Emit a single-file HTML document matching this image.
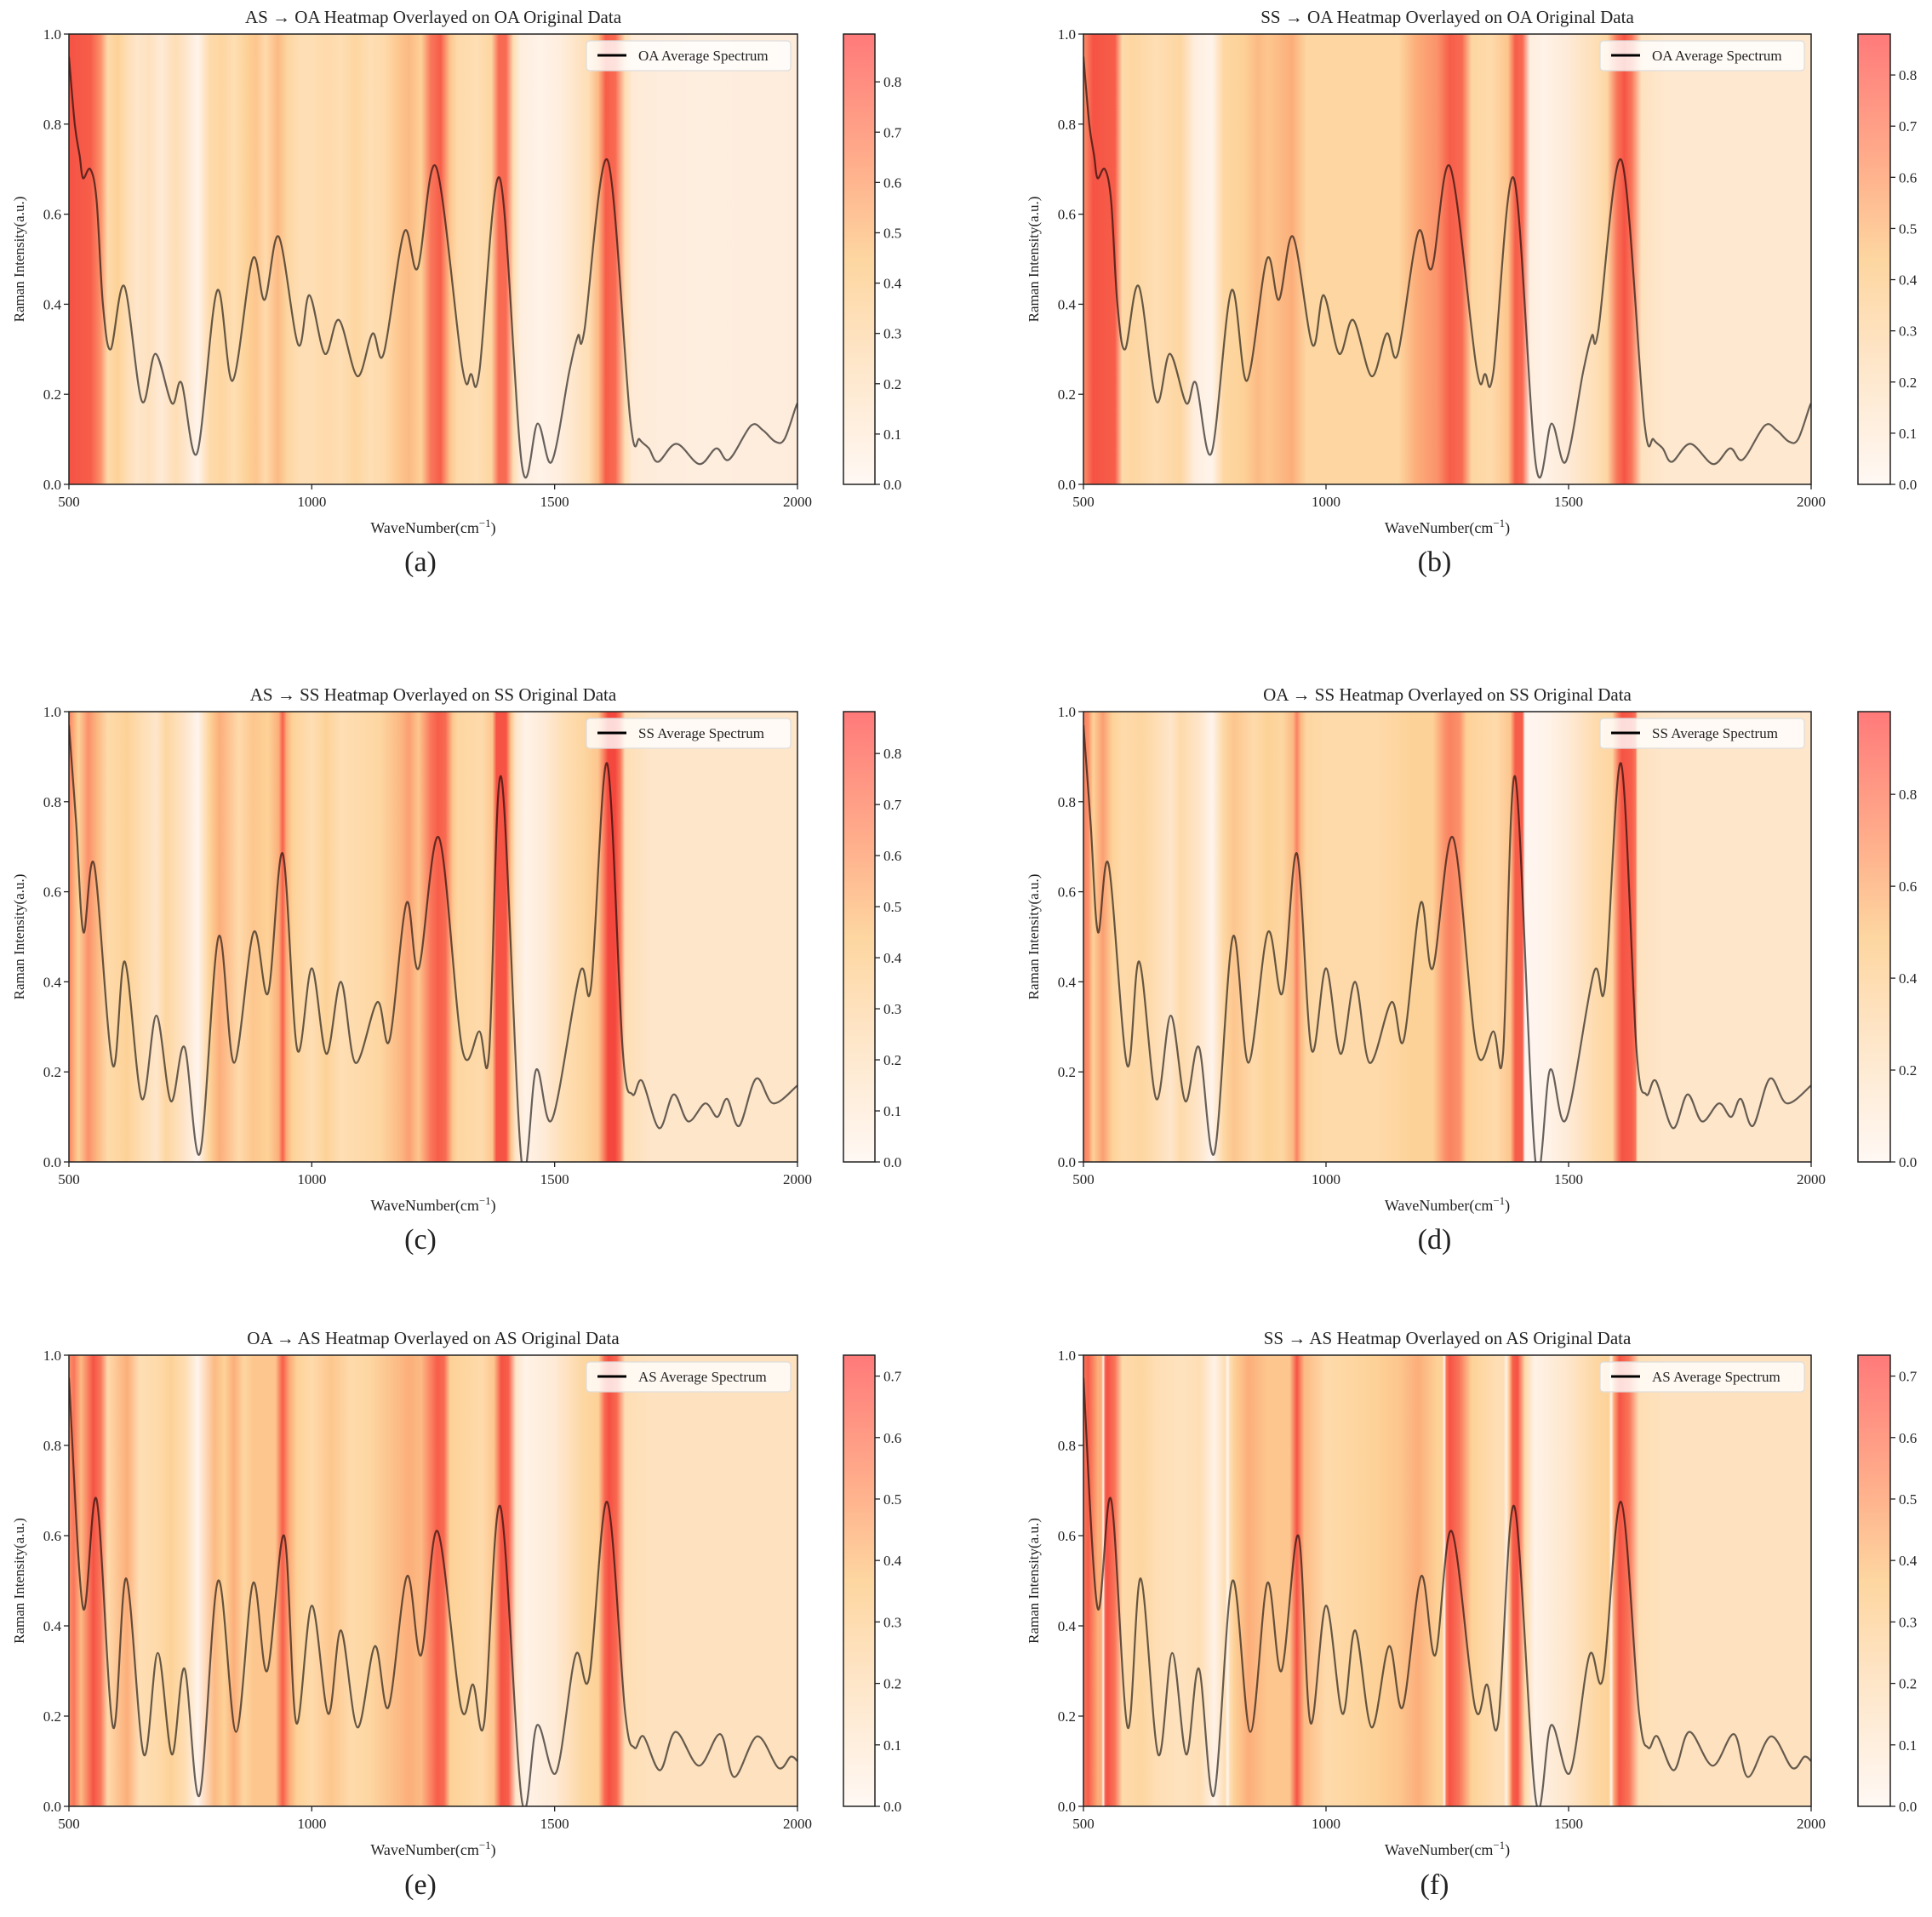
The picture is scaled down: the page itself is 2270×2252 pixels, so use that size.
<!DOCTYPE html>
<html><head><meta charset="utf-8"><style>
html,body{margin:0;padding:0;background:#fff;}
svg text{font-family:"Liberation Serif",serif;fill:#222;}
</style></head><body>
<svg id="fig" width="2270" height="2247" viewBox="0 0 2270 2247" xmlns="http://www.w3.org/2000/svg"></svg>
<script>
// ---- spectra data (wavenumber keypoints, intensity) ----
const oaWn = [500,512,522,529,544,557,570,586,614,650,678,712,732,764,805,837,878,903,932,972,995,1027,1056,1094,1125,1148,1190,1218,1256,1310,1328,1345,1387,1433,1465,1494,1530,1548,1561,1609,1656,1675,1694,1713,1751,1798,1833,1859,1904,1929,1954,1973,1996,2000];
const oaVal = [0.95,0.80,0.73,0.68,0.70,0.63,0.40,0.30,0.44,0.185,0.29,0.18,0.225,0.07,0.43,0.23,0.50,0.41,0.55,0.31,0.42,0.29,0.365,0.24,0.335,0.29,0.56,0.48,0.705,0.26,0.245,0.25,0.68,0.04,0.135,0.05,0.25,0.33,0.34,0.72,0.14,0.10,0.08,0.05,0.09,0.045,0.08,0.055,0.13,0.12,0.095,0.10,0.17,0.18];
const ssWn = [500,515,530,552,590,615,650,680,710,738,770,808,840,880,910,940,970,1000,1030,1060,1090,1135,1160,1195,1220,1262,1310,1345,1365,1390,1432,1462,1495,1552,1575,1608,1640,1660,1680,1715,1745,1775,1810,1835,1855,1880,1915,1950,2000];
const ssVal = [0.97,0.75,0.51,0.66,0.215,0.445,0.14,0.325,0.135,0.255,0.02,0.50,0.22,0.51,0.375,0.685,0.25,0.43,0.24,0.40,0.22,0.355,0.27,0.575,0.43,0.72,0.25,0.29,0.24,0.855,0.0,0.205,0.095,0.42,0.39,0.885,0.25,0.15,0.18,0.075,0.15,0.09,0.13,0.10,0.14,0.08,0.185,0.13,0.17];
const asWn = [500,529,557,591,618,654,683,712,738,769,807,844,879,908,943,968,1000,1034,1060,1094,1130,1158,1196,1225,1259,1307,1332,1355,1388,1433,1464,1503,1543,1571,1608,1645,1664,1683,1717,1749,1797,1841,1870,1917,1961,1986,2000];
const asVal = [0.95,0.44,0.68,0.175,0.505,0.115,0.34,0.115,0.305,0.025,0.50,0.165,0.495,0.30,0.60,0.185,0.445,0.205,0.39,0.175,0.355,0.22,0.51,0.335,0.61,0.22,0.27,0.185,0.665,0.01,0.18,0.075,0.335,0.285,0.675,0.21,0.13,0.155,0.08,0.165,0.09,0.16,0.065,0.155,0.085,0.11,0.10];

// ---- heatmap data (wavenumber keypoints, importance relative to colorbar max) ----
const heatAWn = [500,545,565,580,600,620,640,665,690,720,740,765,790,815,840,865,885,905,930,950,975,1000,1030,1060,1090,1120,1150,1180,1200,1225,1245,1265,1285,1300,1340,1370,1385,1400,1415,1430,1470,1510,1540,1570,1590,1605,1625,1645,1660,1700,1800,2000];
const heatAVal = [0.95,0.9,0.7,0.35,0.45,0.3,0.2,0.25,0.15,0.3,0.2,0.03,0.35,0.4,0.3,0.45,0.5,0.35,0.55,0.4,0.3,0.3,0.35,0.3,0.4,0.3,0.35,0.5,0.55,0.45,0.8,0.9,0.5,0.35,0.3,0.4,0.85,0.85,0.3,0.1,0.05,0.1,0.2,0.3,0.55,0.9,0.85,0.3,0.15,0.12,0.1,0.12];
const heatBWn = [500,520,565,580,600,650,700,730,765,790,830,860,880,930,960,1000,1100,1150,1185,1230,1255,1280,1300,1340,1375,1390,1405,1420,1450,1500,1560,1580,1600,1615,1630,1650,1700,2000];
const heatBVal = [0.7,0.95,0.9,0.35,0.4,0.3,0.4,0.1,0.03,0.4,0.45,0.55,0.5,0.6,0.4,0.4,0.4,0.4,0.6,0.7,0.9,0.85,0.4,0.35,0.5,0.9,0.85,0.1,0.05,0.15,0.3,0.4,0.8,0.95,0.8,0.25,0.18,0.18];
const heatCWn = [500,510,520,540,560,580,620,650,680,700,740,765,790,810,850,880,910,932,940,948,960,1000,1030,1060,1100,1140,1180,1200,1220,1245,1260,1275,1290,1300,1350,1372,1380,1400,1410,1420,1440,1480,1520,1560,1590,1603,1610,1625,1635,1645,1700,2000];
const heatCVal = [0.75,0.6,0.45,0.7,0.55,0.35,0.45,0.3,0.2,0.4,0.2,0.02,0.45,0.6,0.35,0.5,0.45,0.6,0.9,0.6,0.45,0.3,0.45,0.3,0.35,0.4,0.55,0.65,0.5,0.8,0.9,0.85,0.5,0.4,0.35,0.5,0.95,0.95,0.5,0.2,0.05,0.15,0.3,0.4,0.5,0.8,1.0,1.0,0.8,0.3,0.2,0.2];
const heatDWn = [500,510,520,540,560,580,620,650,680,700,740,765,790,810,850,880,910,932,940,948,960,1000,1100,1180,1220,1245,1255,1275,1290,1350,1380,1390,1405,1410,1440,1460,1500,1560,1590,1603,1610,1630,1638,1642,1700,2000];
const heatDVal = [0.75,0.7,0.45,0.65,0.45,0.35,0.4,0.3,0.2,0.35,0.2,0.02,0.4,0.5,0.35,0.45,0.4,0.55,0.75,0.55,0.4,0.35,0.35,0.45,0.45,0.7,0.75,0.7,0.45,0.35,0.5,0.9,0.9,0.0,0.02,0.05,0.15,0.35,0.4,0.8,0.95,0.9,0.8,0.25,0.2,0.2];
const heatEWn = [500,510,525,550,565,580,620,645,680,710,740,765,800,820,840,860,880,925,940,955,970,1000,1040,1080,1120,1180,1200,1225,1245,1258,1272,1285,1320,1350,1375,1390,1405,1420,1440,1500,1560,1590,1603,1612,1628,1645,1700,2000];
const heatEVal = [0.7,0.8,0.55,0.95,0.8,0.35,0.6,0.3,0.35,0.45,0.3,0.03,0.55,0.45,0.6,0.4,0.5,0.5,0.9,0.6,0.45,0.35,0.5,0.35,0.4,0.55,0.6,0.55,0.75,0.9,0.85,0.45,0.4,0.35,0.5,0.95,0.9,0.2,0.05,0.15,0.4,0.45,0.85,0.97,0.85,0.3,0.25,0.25];
const heatFWn = [500,510,530,537,541,545,550,565,580,620,650,700,740,770,792,797,802,810,840,880,925,940,955,1000,1050,1100,1150,1190,1230,1240,1244,1248,1255,1275,1300,1350,1366,1372,1378,1385,1395,1410,1430,1500,1560,1583,1588,1593,1605,1625,1645,1700,2000];
const heatFVal = [0.8,0.9,0.6,0.6,0.0,0.9,0.95,0.8,0.35,0.4,0.3,0.25,0.3,0.05,0.3,0.0,0.3,0.45,0.6,0.5,0.5,0.95,0.55,0.35,0.4,0.45,0.5,0.6,0.45,0.45,0.0,0.8,0.95,0.8,0.45,0.3,0.3,0.05,0.5,0.9,0.95,0.35,0.05,0.2,0.4,0.45,0.0,0.6,0.95,0.8,0.3,0.25,0.25];

const xTicks = [500,1000,1500,2000];
const yTicks = [0.0,0.2,0.4,0.6,0.8,1.0];
const cbMaxes = [0.895,0.88,0.882,0.98,0.734,0.734];
const cbTickA = [0,0.1,0.2,0.3,0.4,0.5,0.6,0.7,0.8];
const cbTickD = [0,0.2,0.4,0.6,0.8];
const cbTickE = [0,0.1,0.2,0.3,0.4,0.5,0.6,0.7];

const panels = [
 {id:'a',title:'AS \u2192 OA Heatmap Overlayed on OA Original Data',leg:'OA Average Spectrum',sw:oaWn,sv:oaVal,hw:heatAWn,hv:heatAVal,cb:0,ticks:cbTickA},
 {id:'b',title:'SS \u2192 OA Heatmap Overlayed on OA Original Data',leg:'OA Average Spectrum',sw:oaWn,sv:oaVal,hw:heatBWn,hv:heatBVal,cb:1,ticks:cbTickA},
 {id:'c',title:'AS \u2192 SS Heatmap Overlayed on SS Original Data',leg:'SS Average Spectrum',sw:ssWn,sv:ssVal,hw:heatCWn,hv:heatCVal,cb:2,ticks:cbTickA},
 {id:'d',title:'OA \u2192 SS Heatmap Overlayed on SS Original Data',leg:'SS Average Spectrum',sw:ssWn,sv:ssVal,hw:heatDWn,hv:heatDVal,cb:3,ticks:cbTickD},
 {id:'e',title:'OA \u2192 AS Heatmap Overlayed on AS Original Data',leg:'AS Average Spectrum',sw:asWn,sv:asVal,hw:heatEWn,hv:heatEVal,cb:4,ticks:cbTickE},
 {id:'f',title:'SS \u2192 AS Heatmap Overlayed on AS Original Data',leg:'AS Average Spectrum',sw:asWn,sv:asVal,hw:heatFWn,hv:heatFVal,cb:5,ticks:cbTickE}
];

const NS='http://www.w3.org/2000/svg';
const svg=document.getElementById('fig');
function mk(tag,attrs,parent){const e=document.createElementNS(NS,tag);for(const k in attrs)e.setAttribute(k,attrs[k]);(parent||svg).appendChild(e);return e;}

const cmapStops=[[0,[255,246,240]],[0.15,[254,234,214]],[0.3,[254,222,180]],[0.45,[253,210,152]],[0.6,[252,174,122]],[0.75,[250,130,98]],[0.9,[247,94,74]],[1,[244,72,62]]];
const cbStops=[[0,[255,248,244]],[0.3,[254,228,196]],[0.5,[253,214,160]],[0.7,[255,176,140]],[1,[255,122,122]]];
function cmap(v,stops){v=Math.max(0,Math.min(1,v));for(let i=1;i<stops.length;i++){if(v<=stops[i][0]){const a=stops[i-1],b=stops[i];const t=(v-a[0])/(b[0]-a[0]);const c=a[1].map((x,j)=>Math.round(x+(b[1][j]-x)*t));return 'rgb('+c.join(',')+')';}}const c=stops[stops.length-1][1];return 'rgb('+c.join(',')+')';}

const defs=mk('defs',{});
const cols=[{L:81,R:937,cbL:991,cbR:1028,ylab:22},{L:1273,R:2128,cbL:2183,cbR:2221,ylab:1214}];
const rows=[{T:40,B:569,lab:671},{T:836,B:1365,lab:1467},{T:1592,B:2122,lab:2225}];

panels.forEach((p,i)=>{
  const c=cols[i%2], r=rows[Math.floor(i/2)];
  const L=c.L,R=c.R,T=r.T,B=r.B;
  const sx=w=>L+(w-500)/1500*(R-L);
  const sy=v=>B-v*(B-T);
  const g=mk('g',{});
  
  
  const lg=mk('linearGradient',{id:'hg'+p.id,x1:'0',x2:'1',y1:'0',y2:'0'},defs);
  p.hw.forEach((w,k)=>{mk('stop',{offset:((w-500)/1500).toFixed(4),'stop-color':cmap(p.hv[k],cmapStops)},lg);});
  const hr=mk('rect',{x:L,y:T,width:R-L,height:B-T,fill:'url(#hg'+p.id+')'},g);
  
  
  const pts=p.sw.map((w,k)=>[sx(w),sy(p.sv[k])]);
  let d='M'+pts[0][0].toFixed(1)+','+pts[0][1].toFixed(1);
  for(let k=0;k<pts.length-1;k++){
    const p0=pts[Math.max(0,k-1)],p1=pts[k],p2=pts[k+1],p3=pts[Math.min(pts.length-1,k+2)];
    const c1=[p1[0]+(p2[0]-p0[0])/6,p1[1]+(p2[1]-p0[1])/6];
    const c2=[p2[0]-(p3[0]-p1[0])/6,p2[1]-(p3[1]-p1[1])/6];
    d+=' C'+c1[0].toFixed(1)+','+c1[1].toFixed(1)+' '+c2[0].toFixed(1)+','+c2[1].toFixed(1)+' '+p2[0].toFixed(1)+','+p2[1].toFixed(1);
  }
  const cp=mk('clipPath',{id:'cp'+p.id},defs);mk('rect',{x:L,y:T,width:R-L,height:B-T},cp);
  const ln=mk('path',{d:d,fill:'none',stroke:'#000','stroke-opacity':'0.6','stroke-width':'2.2','clip-path':'url(#cp'+p.id+')'},g);
  
  
  const fr=mk('rect',{x:L,y:T,width:R-L,height:B-T,fill:'none',stroke:'#222','stroke-width':'1.5'},g);
  
  
  xTicks.forEach(t=>{const x=sx(t);mk('line',{x1:x,x2:x,y1:B,y2:B+6,stroke:'#222','stroke-width':'1.3'},g);
    const tx=mk('text',{x:x,y:B+26,'text-anchor':'middle','font-size':'17'},g);tx.textContent=t;
    
    });
  yTicks.forEach(t=>{const y=sy(t);mk('line',{x1:L-6,x2:L,y1:y,y2:y,stroke:'#222','stroke-width':'1.3'},g);
    const tx=mk('text',{x:L-9,y:y+6,'text-anchor':'end','font-size':'17'},g);tx.textContent=t.toFixed(1);
    
    });
  const ti=mk('text',{x:(L+R)/2,y:T-13,'text-anchor':'middle','font-size':'21'},g);ti.textContent=p.title;
  
  
  const xl=mk('text',{x:(L+R)/2,y:B+57,'text-anchor':'middle','font-size':'18'},g);
  xl.innerHTML='WaveNumber(cm<tspan dy="-7" font-size="13">\u22121</tspan><tspan dy="7">)</tspan>';
  
  
  const yl=mk('text',{x:0,y:0,'text-anchor':'middle','font-size':'17',transform:'translate('+(c.ylab+6)+','+((T+B)/2)+') rotate(-90)'},g);
  yl.textContent='Raman Intensity(a.u.)';
  
  
  const lgG=mk('g',{},g);
  
  
  mk('rect',{x:R-248,y:T+8,width:240,height:35,rx:4,fill:'#fff','fill-opacity':'0.8',stroke:'#ddd','stroke-width':'1.2'},lgG);
  mk('line',{x1:R-235,x2:R-201,y1:T+25,y2:T+25,stroke:'#000','stroke-width':'3'},lgG);
  const lt=mk('text',{x:R-187,y:T+31,'font-size':'17'},lgG);lt.textContent=p.leg;
  const cbG=mk('g',{},g);
  
  
  const cg=mk('linearGradient',{id:'cb'+p.id,x1:'0',x2:'0',y1:'1',y2:'0'},defs);
  for(let k=0;k<=10;k++){mk('stop',{offset:(k/10).toFixed(2),'stop-color':cmap(k/10,cbStops)},cg);}
  mk('rect',{x:c.cbL,y:T,width:c.cbR-c.cbL,height:B-T,fill:'url(#cb'+p.id+')',stroke:'#222','stroke-width':'1.5'},cbG);
  const mx=cbMaxes[p.cb];
  p.ticks.forEach(t=>{const y=B-t/mx*(B-T);mk('line',{x1:c.cbR,x2:c.cbR+6,y1:y,y2:y,stroke:'#222','stroke-width':'1.3'},cbG);
    const tx=mk('text',{x:c.cbR+10,y:y+6,'font-size':'17'},cbG);tx.textContent=t.toFixed(1);
    
    });
  const sl=mk('text',{x:(L+R)/2-15,y:r.lab,'text-anchor':'middle','font-size':'34'},g);sl.textContent='('+p.id+')';
  
  
});
</script>
</body></html>
